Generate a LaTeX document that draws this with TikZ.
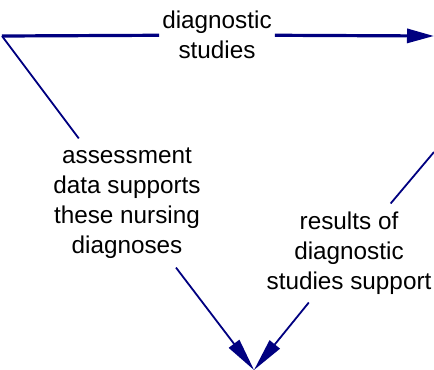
\documentclass[tikz,border=0pt]{standalone}
\usepackage{fontspec}
\setmainfont{Liberation Sans}
\usetikzlibrary{arrows.meta}
\definecolor{navyline}{RGB}{0,0,128}
\begin{document}
\begin{tikzpicture}[x=1bp,y=-1bp,
  lbl/.style={align=center,font=\fontsize{24.3bp}{30bp}\selectfont,inner xsep=3bp,inner ysep=6bp},
  thickcon/.style={draw=navyline,line width=3.2bp},
  thincon/.style={draw=navyline,line width=1.8bp},
  toptip/.style={-{Triangle[length=27bp,width=14bp]}},
  bottip/.style={-{Triangle[length=33bp,width=13bp]}}]
\useasboundingbox (0,0) rectangle (434,369);
\coordinate (A) at (2,36);
\coordinate (B) at (434,36);
\coordinate (R) at (434,152);
\coordinate (C) at (254,370);
\node[lbl] (top) at (217,35) {diagnostic\\studies};
\node[lbl,inner sep=9bp] (left) at (127,203) {assessment\\data supports\\these nursing\\diagnoses};
\node[lbl,inner sep=8bp] (right) at (349,253) {results of\\diagnostic\\studies support};
\draw[thickcon] (A) -- (top);
\draw[thickcon,toptip,fill=navyline] (top) -- (B);
\draw[thincon] (A) -- (left);
\draw[thincon,bottip,fill=navyline] (left) -- (C);
\draw[thincon] (R) -- (right);
\draw[thincon,bottip,fill=navyline] (right) -- (C);
\end{tikzpicture}
\end{document}
